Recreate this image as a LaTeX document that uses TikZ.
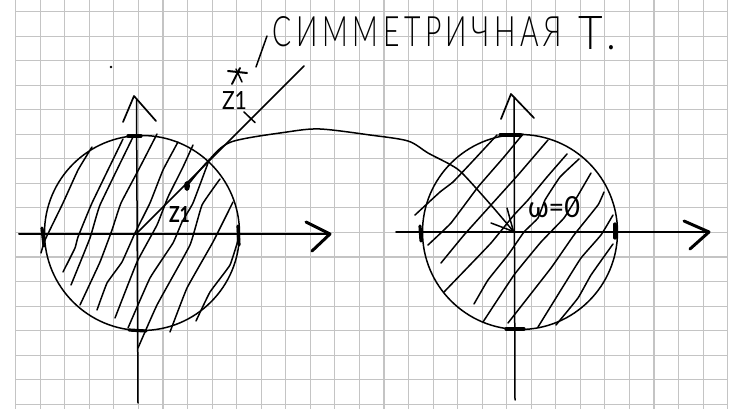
\documentclass[tikz,border=0pt]{standalone}
\usepackage{fontspec}
\setmainfont{Lato Light}
\newfontfamily\titlefont[LetterSpace=16]{Lato Light}
\newfontfamily\labelfont{Lato}
\usepackage{graphicx}
\definecolor{gridc}{HTML}{C4C4C4}
\tikzset{
  gridline/.style={draw=gridc,line width=1.1pt},
  ink/.style={draw=black,line width=1.5pt,line cap=round,line join=round},
  axisline/.style={ink,line width=2pt},
  headline/.style={ink,line width=1.7pt},
  tick/.style={ink,line width=3.2pt},
  label/.style={inner sep=0pt,outer sep=0pt,text=black}
}
\newcommand{\stroke}[1]{\draw[ink] plot[smooth,tension=.2] coordinates {#1};}
\begin{document}
\begin{tikzpicture}[x=1pt,y=-1pt]
\useasboundingbox (0,0) rectangle (742,409);
\fill[white] (0,0) rectangle (742,409);
% paper grid
\foreach \i in {0,...,29} {\draw[gridline] ({15.7+24.55*\i},0) -- ({15.7+24.55*\i},409);}
\foreach \j in {0,...,16} {\draw[gridline] (15.7,{11.7+24.53*\j}) -- (727.5,{11.7+24.53*\j});}
% circles
\draw[ink] (142,233) circle (97.5);
\draw[ink] (520,232) circle (97.5);
% left axes
\draw[axisline] (19,234) -- (330,234);
\draw[axisline,line width=3pt] (306,222) -- (330,234) -- (312,251);
\draw[ink] (136.5,100) -- (138,403);
\draw[headline] (123,122) -- (134,96) -- (156,121);
% right axes
\draw[axisline] (396,232) -- (709,232);
\draw[axisline,line width=3pt] (684,221) -- (709,232) -- (690,249);
\draw[ink] (514,98) -- (515,400);
\draw[headline] (501,119) -- (511,94) -- (534,118);
% marks on circles
\draw[tick] (128,136) -- (141,136);
\draw[tick] (129,330) -- (146,331);
\draw[tick] (42,228) -- (44,246);
\draw[tick] (238,226) -- (239,245);
\draw[tick] (500,135) -- (521,135);
\draw[tick] (506,329) -- (524,329);
\draw[tick] (420,226) -- (421,241);
\draw[tick] (615,224) -- (615,238);
% left hatching
\stroke{(92,147) (78,170) (63,203) (45,240) (41,253)}
\stroke{(123,139) (92,203) (78,237) (75,248) (63,272)}
\stroke{(133,137) (100,205) (90,238) (71,285)}
\stroke{(157,134) (140,167) (121,203) (112,230) (100,262) (80,305)}
\stroke{(178,142) (163,170) (150,203) (135,233) (122,262) (107,283) (97,310)}
\stroke{(193,145) (183,167) (168,197) (157,225) (137,262) (115,318)}
\stroke{(208,163) (193,203) (182,222) (173,243) (150,278) (128,328)}
\stroke{(220,179) (202,205) (190,245) (157,305) (138,348)}
\stroke{(233,202) (213,242) (187,288) (170,332)}
\stroke{(239,237) (230,265) (210,292) (196,321)}
% right hatching
\stroke{(497,135) (471,163) (453,182) (440,192) (415,215)}
\stroke{(523,134) (504,157) (478,187) (451,223) (428,245)}
\stroke{(548,140) (518,175) (491,205) (464,235) (441,263)}
\stroke{(567,154) (547,177) (528,200) (514,215) (491,243) (470,265) (444,292)}
\stroke{(579,159) (560,177) (545,200) (538,218) (524,232) (508,255) (488,280) (474,304)}
\stroke{(591,173) (577,197) (564,218) (541,242) (514,275) (483,322)}
\stroke{(604,192) (598,205) (574,235) (551,268) (508,323)}
\stroke{(613,215) (601,235) (581,258) (564,285) (538,327)}
\stroke{(613,244) (591,275) (578,298) (556,325)}
% symmetric point construction
\coordinate (origin) at (137,233);
\coordinate (lineend) at (304,66);
\coordinate (zin) at (187,186);
\coordinate (target) at (513.5,231.5);
\draw[ink] (origin) -- (lineend);
\draw[ink] (244,112) -- (255,122.5);
\draw[ink] (267,36) -- (256,67);
\fill (zin) ellipse (3 and 5);
\fill (111,67) circle (1.3);
% star
\draw[ink,line width=2pt] (228,71) -- (247,73);
\draw[ink,line width=2pt] (232,84) -- (240,68);
\draw[ink] (236,69) -- (242,82);
% mapping arrow
\draw[ink] plot[smooth,tension=.5] coordinates {(zin) (208,161) (231,142) (287,132) (320,129) (370,135) (408,141) (428,153) (451,165) (463,174) (491,205) (target)};
\draw[ink] (491,223) -- (target) -- (507,208);
% texts
\node[label] (title) at (417.5,32) {\resizebox{289pt}{30pt}{\titlefont СИММЕТРИЧНАЯ}};
\node[label] (titleb) at (597,33.5) {\resizebox{38pt}{33pt}{\titlefont Т.}};
\node[label] (zout) at (234.5,101) {\resizebox{25pt}{18pt}{\labelfont Z1}};
\node[label] (zinner) at (179.5,214.5) {\resizebox{21pt}{16pt}{\labelfont\bfseries Z1}};
\node[label] (omega) at (554,207.5) {\resizebox{52pt}{21pt}{\labelfont ω=0}};
\end{tikzpicture}
\end{document}
